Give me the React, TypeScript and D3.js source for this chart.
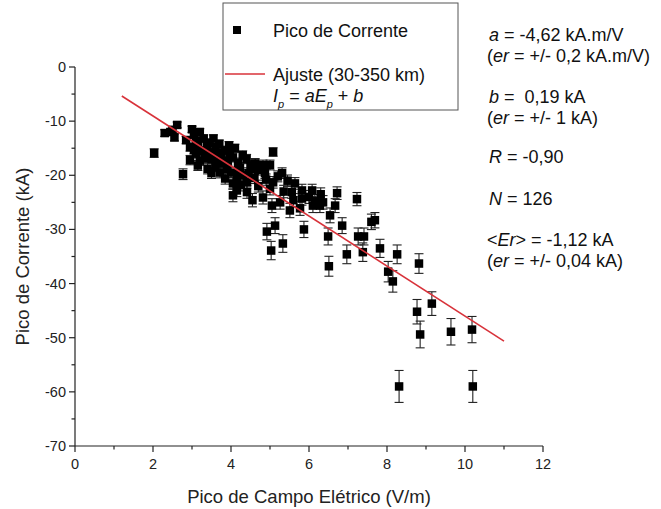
import React from "react";
import * as d3 from "d3";

const xValues: number[] = [
  2.03, 2.77, 2.3, 2.45, 2.55, 2.62, 2.5, 3.0, 3.05, 3.1,
  2.95, 2.95, 3.15, 3.25, 3.38, 3.2, 3.33, 3.5, 3.4, 3.55,
  3.72, 3.85, 3.97, 3.64, 3.8, 3.92, 3.72, 3.9, 4.05, 4.18,
  4.23, 4.15, 4.05, 4.15, 4.05, 4.31, 4.41, 4.41, 3.1, 3.3,
  3.45, 3.6, 3.15, 3.4, 3.6, 3.75, 4.0, 3.85, 4.3, 4.5,
  4.62, 4.82, 5.0, 5.31, 4.87, 5.08, 4.6, 4.82, 5.05, 5.26,
  5.56, 5.64, 5.82, 5.82, 5.51, 5.77, 6.08, 6.1, 6.28, 6.36,
  6.72, 6.54, 6.67, 5.13, 4.92, 5.33, 5.03, 5.87, 6.49, 6.85,
  6.97, 5.08, 4.7, 5.2, 5.45, 5.0, 4.7, 5.35, 6.0, 6.3,
  4.25, 4.55, 7.23, 7.69, 7.6, 7.26, 7.41, 7.38, 7.82, 8.26,
  6.51, 8.82, 8.03, 8.15, 8.77, 9.15, 8.85, 9.64, 10.18, 8.31,
  10.2, 2.85, 3.2, 3.55, 3.7, 3.95, 4.1, 4.4, 4.6, 3.5,
  3.05, 4.2, 4.45, 4.9, 5.6, 6.15,
];
const yValues: number[] = [
  -15.9, -19.8, -12.2, -12.0, -13.0, -10.7, -11.6, -11.5, -12.5, -13.6,
  -14.8, -17.2, -14.2, -15.5, -14.4, -17.3, -16.8, -19.6, -15.8, -16.0,
  -15.8, -15.4, -15.9, -17.6, -17.8, -17.3, -19.5, -18.8, -16.7, -17.7,
  -18.6, -20.4, -21.5, -22.8, -23.7, -20.0, -21.3, -23.1, -16.0, -13.2,
  -14.0, -14.8, -18.2, -18.8, -18.4, -16.5, -19.5, -20.6, -16.3, -18.2,
  -17.8, -18.1, -18.1, -19.6, -19.6, -21.3, -20.5, -24.1, -25.6, -25.0,
  -23.1, -21.5, -22.8, -24.3, -26.5, -26.1, -22.8, -25.6, -25.6, -25.0,
  -23.3, -27.4, -25.6, -29.3, -30.4, -32.6, -33.9, -30.0, -31.3, -29.3,
  -34.6, -15.7, -19.0, -20.2, -21.0, -22.5, -22.0, -23.0, -24.0, -23.5,
  -21.8, -24.6, -24.4, -28.3, -28.6, -31.3, -31.3, -34.2, -33.5, -34.6,
  -36.8, -36.3, -37.8, -39.6, -45.2, -43.7, -49.4, -48.9, -48.5, -59.0,
  -59.0, -13.5, -12.0, -13.2, -14.2, -14.5, -15.0, -17.0, -18.8, -17.0,
  -15.3, -19.2, -19.6, -20.8, -24.6, -24.8,
];
const errFraction = 0.05;

const fitA = -4.62;
const fitB = 0.19;
const fitRange: number[] = [1.2, 11];

const xTicks: number[] = [0, 2, 4, 6, 8, 10, 12];
const xMinorTicks: number[] = [1, 3, 5, 7, 9, 11];
const yTicks: number[] = [0, -10, -20, -30, -40, -50, -60, -70];
const yMinorTicks: number[] = [-5, -15, -25, -35, -45, -55, -65];

const W = 661;
const H = 509;
const FONT = "'Liberation Sans', Arial, Helvetica, sans-serif";

export default function App() {
  const x = d3.scaleLinear().domain([0, 12]).range([75, 543]);
  const y = d3.scaleLinear().domain([0, -70]).range([67, 446]);
  const fitLine = d3
    .line<number>()
    .x((d) => x(d))
    .y((d) => y(fitA * d + fitB));
  const sq = 8.5;
  const cap = 4.5;
  const axisColor = "#222";
  const pts = xValues.map((xv, i) => ({ x: xv, y: yValues[i] }));
  const fs = 18;

  return (
    <svg
      width={W}
      height={H}
      style={{ position: "absolute", left: 0, top: 0, background: "#fff" }}
      fontFamily={FONT}
    >
      <rect x={0} y={0} width={W} height={H} fill="#fff" />
      {/* error bars */}
      <g stroke="#222" strokeWidth={1.1}>
        {pts.map((p, i) => {
          const e = Math.abs(p.y) * errFraction;
          const cx = x(p.x);
          const y1 = y(p.y - e);
          const y2 = y(p.y + e);
          return (
            <g key={"e" + i}>
              <line x1={cx} x2={cx} y1={y1} y2={y2} />
              <line x1={cx - cap} x2={cx + cap} y1={y1} y2={y1} />
              <line x1={cx - cap} x2={cx + cap} y1={y2} y2={y2} />
            </g>
          );
        })}
      </g>
      {/* points */}
      <g fill="#000">
        {pts.map((p, i) => (
          <rect
            key={"p" + i}
            x={x(p.x) - sq / 2}
            y={y(p.y) - sq / 2}
            width={sq}
            height={sq}
          />
        ))}
      </g>
      {/* fit line */}
      <path d={fitLine(fitRange) || ""} stroke="#d8323a" strokeWidth={1.6} fill="none" />

      {/* axes */}
      <g stroke={axisColor} strokeWidth={1.2}>
        <line x1={x(0)} x2={x(12)} y1={y(-70)} y2={y(-70)} />
        <line x1={x(0)} x2={x(0)} y1={y(0)} y2={y(-70)} />
        {xTicks.map((t) => (
          <line key={"xt" + t} x1={x(t)} x2={x(t)} y1={y(-70)} y2={y(-70) + 6} />
        ))}
        {xMinorTicks.map((t) => (
          <line key={"xm" + t} x1={x(t)} x2={x(t)} y1={y(-70)} y2={y(-70) + 3.5} />
        ))}
        {yTicks.map((t) => (
          <line key={"yt" + t} x1={x(0) - 6} x2={x(0)} y1={y(t)} y2={y(t)} />
        ))}
        {yMinorTicks.map((t) => (
          <line key={"ym" + t} x1={x(0) - 3.5} x2={x(0)} y1={y(t)} y2={y(t)} />
        ))}
      </g>
      <g fontSize={14.5} fill="#222">
        {xTicks.map((t) => (
          <text key={"xl" + t} x={x(t)} y={y(-70) + 23} textAnchor="middle">
            {String(t)}
          </text>
        ))}
        {yTicks.map((t) => (
          <text key={"yl" + t} x={x(0) - 9} y={y(t) + 5} textAnchor="end">
            {String(t)}
          </text>
        ))}
      </g>
      <text x={(x(0) + x(12)) / 2} y={503} textAnchor="middle" fontSize={fs + 0.5} fill="#222">
        Pico de Campo Elétrico (V/m)
      </text>
      <text
        transform={`translate(29, ${(y(0) + y(-70)) / 2}) rotate(-90)`}
        textAnchor="middle"
        fontSize={fs + 0.5}
        fill="#222"
      >
        Pico de Corrente (kA)
      </text>

      {/* legend */}
      <rect x={223} y={3} width={235} height={107} fill="#fff" stroke="#555" strokeWidth={1} />
      <rect x={237 - 4} y={30 - 4} width={8} height={8} fill="#000" />
      <text x={273} y={37} fontSize={fs} fill="#111">Pico de Corrente</text>
      <line x1={225} x2={265} y1={74} y2={74} stroke="#d8323a" strokeWidth={1.6} />
      <text x={273} y={81} fontSize={fs} fill="#111">Ajuste (30-350 km)</text>
      <text x={273} y={102} fontSize={fs} fill="#111">
        <tspan fontStyle="italic">I</tspan>
        <tspan fontStyle="italic" fontSize={11} dy={6}>p</tspan>
        <tspan dy={-6}> = </tspan>
        <tspan fontStyle="italic">aE</tspan>
        <tspan fontStyle="italic" fontSize={11} dy={6}>p</tspan>
        <tspan dy={-6}> + </tspan>
        <tspan fontStyle="italic">b</tspan>
      </text>

      {/* annotations */}
      <g fontSize={fs} fill="#111">
        <text x={489} y={41}>
          <tspan fontStyle="italic">a</tspan> = -4,62 kA.m/V
        </text>
        <text x={487} y={62}>
          (<tspan fontStyle="italic">er</tspan> = +/- 0,2 kA.m/V)
        </text>
        <text x={489} y={103}>
          <tspan fontStyle="italic">b</tspan>{" =\u00a0 0,19 kA"}
        </text>
        <text x={487} y={124}>
          (<tspan fontStyle="italic">er</tspan> = +/- 1 kA)
        </text>
        <text x={489} y={163}>
          <tspan fontStyle="italic">R</tspan> = -0,90
        </text>
        <text x={489} y={205}>
          <tspan fontStyle="italic">N</tspan> = 126
        </text>
        <text x={487} y={246}>
          &lt;<tspan fontStyle="italic">Er</tspan>&gt; = -1,12 kA
        </text>
        <text x={487} y={267}>
          (<tspan fontStyle="italic">er</tspan> = +/- 0,04 kA)
        </text>
      </g>
    </svg>
  );
}
